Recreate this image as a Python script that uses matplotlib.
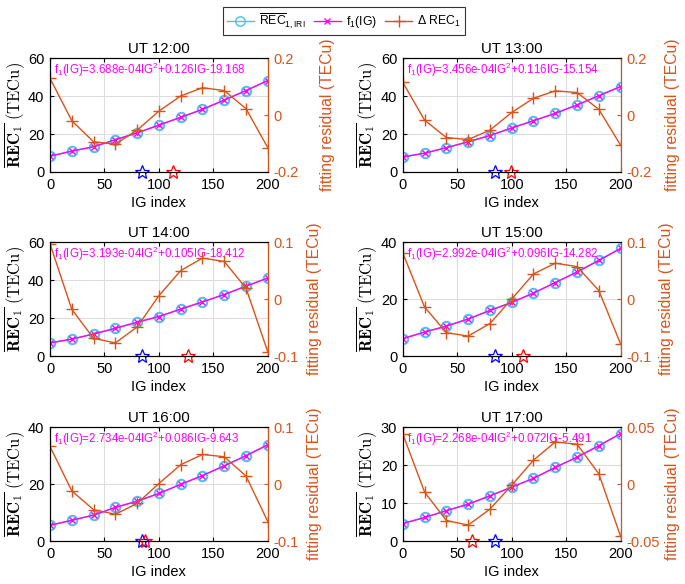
"""
REC_1 vs IG index, with quadratic fit f_1(IG) and fitting residual, UT 12-17.
"""
import matplotlib
matplotlib.use('Agg')
import matplotlib.pyplot as plt
from matplotlib.lines import Line2D
import numpy as np

# ── Data ──────────────────────────────────────────────
IG = [0, 20, 40, 60, 80, 100, 120, 140, 160, 180, 200]

TITLES = ['UT 12:00', 'UT 13:00', 'UT 14:00', 'UT 15:00', 'UT 16:00', 'UT 17:00']

FIT_TEXT = [
    'f$_1$(IG)=3.688e-04IG$^2$+0.126IG-19.168',
    'f$_1$(IG)=3.456e-04IG$^2$+0.116IG-15.154',
    'f$_1$(IG)=3.193e-04IG$^2$+0.105IG-18.412',
    'f$_1$(IG)=2.992e-04IG$^2$+0.096IG-14.282',
    'f$_1$(IG)=2.734e-04IG$^2$+0.086IG-9.643',
    'f$_1$(IG)=2.268e-04IG$^2$+0.072IG-5.491',
]

rec_12 = [8.3, 11.0, 13.3, 17.0, 20.6, 24.7, 28.8, 33.0, 37.9, 42.9, 48.2]
rec_13 = [7.9, 9.9, 12.8, 15.9, 19.2, 23.2, 27.0, 30.9, 35.3, 40.2, 45.0]
rec_14 = [6.9, 8.9, 11.6, 14.6, 17.8, 20.8, 24.7, 28.5, 32.4, 36.8, 41.1]
rec_15 = [6.1, 8.4, 10.5, 13.0, 16.0, 18.8, 22.1, 25.8, 29.5, 33.6, 37.8]
rec_16 = [5.5, 7.3, 9.1, 11.8, 14.0, 16.7, 19.9, 23.0, 26.4, 30.0, 33.8]
rec_17 = [4.6, 6.2, 8.0, 9.7, 11.9, 14.2, 16.5, 19.4, 22.1, 25.1, 28.3]

res_12 = [0.129, -0.020, -0.094, -0.102, -0.053, 0.014, 0.067, 0.096, 0.086, 0.022, -0.115]
res_13 = [0.115, -0.018, -0.079, -0.086, -0.053, 0.009, 0.059, 0.085, 0.079, 0.020, -0.106]
res_14 = [0.097, -0.018, -0.069, -0.077, -0.049, 0.006, 0.050, 0.072, 0.066, 0.019, -0.093]
res_15 = [0.081, -0.014, -0.059, -0.065, -0.043, 0.000, 0.044, 0.063, 0.057, 0.015, -0.079]
res_16 = [0.066, -0.012, -0.045, -0.053, -0.034, 0.001, 0.034, 0.052, 0.048, 0.014, -0.066]
res_17 = [0.044, -0.007, -0.032, -0.036, -0.022, -0.001, 0.021, 0.037, 0.035, 0.009, -0.046]

REC = [rec_12, rec_13, rec_14, rec_15, rec_16, rec_17]
RES = [res_12, res_13, res_14, res_15, res_16, res_17]

# star positions on the IG axis
STAR_BLUE = [84.5, 84.8, 84.5, 84.8, 84.5, 84.8]
STAR_RED = [113, 99.5, 127, 110, 87.3, 63.4]

# left / right axis limits
YMAX = [60, 60, 60, 40, 40, 30]
RMAX = [0.2, 0.2, 0.1, 0.1, 0.1, 0.05]

# ── Style ─────────────────────────────────────────────
C_BLUE = '#4DBEEE'
C_MAG = '#FF00FF'
C_ORG = '#D95319'

plt.rcParams['font.family'] = ['Liberation Sans', 'DejaVu Sans']
plt.rcParams['mathtext.fontset'] = 'custom'
plt.rcParams['mathtext.rm'] = 'Liberation Sans'
plt.rcParams['mathtext.it'] = 'Liberation Sans:italic'
plt.rcParams['mathtext.bf'] = 'Liberation Sans:bold'
plt.rcParams['axes.unicode_minus'] = False

fig = plt.figure(figsize=(6.85, 5.84), dpi=100)

# axes boxes in figure fraction
lefts = [0.073, 0.588]
bottoms = [0.7055, 0.3904, 0.0736]
W, H = 0.318, 0.195
AX_W_PX = W * 685
# gap (px) between right spine and the right-hand label
RLAB_GAP = [52, 44, 39, 38, 39, 44]

for i in range(6):
    row, col = divmod(i, 2)
    ax = fig.add_axes([lefts[col], bottoms[row], W, H])
    ax2 = ax.twinx()

    ax.plot(IG, REC[i], '-o', color=C_BLUE, ms=6.8, mfc='none', mew=1.4, lw=1.0, zorder=3)
    ax.plot(IG, REC[i], '-x', color=C_MAG, ms=5, mew=1.0, lw=1.0, zorder=4)
    ax.plot([STAR_BLUE[i]], [0], marker='*', ms=10.5, mfc='none', mec='blue', mew=0.9,
            clip_on=False, zorder=5)
    ax.plot([STAR_RED[i]], [0], marker='*', ms=10.5, mfc='none', mec='red', mew=0.9,
            clip_on=False, zorder=5)
    ax.text(4, YMAX[i] * 0.895, FIT_TEXT[i], color=C_MAG, fontsize=8.3, va='center', ha='left',
            zorder=6)

    ax2.plot(IG, RES[i], '-+', color=C_ORG, ms=8.5, mew=1.0, lw=1.0)

    ax.set_xlim(0, 200)
    ax.set_ylim(0, YMAX[i])
    ax.set_xticks([0, 50, 100, 150, 200])
    ax.set_yticks(np.arange(0, YMAX[i] + 1, 10 if YMAX[i] == 30 else 20))
    ax.grid(True, color='#dddddd', lw=0.8)
    ax.set_axisbelow(True)
    ax.tick_params(direction='in', labelsize=10.5, top=True, length=3, pad=4)
    ax.set_title(TITLES[i], fontsize=10.8, pad=4)
    ax.set_xlabel('IG index', fontsize=10.5, labelpad=3)
    ax.set_ylabel(r'$\overline{\mathbf{REC}_1}\ \mathrm{(TECu)}$', fontsize=12,
                  math_fontfamily='cm', labelpad=1)

    ax2.set_ylim(-RMAX[i], RMAX[i])
    ax2.set_yticks([-RMAX[i], 0, RMAX[i]])
    ax2.set_yticklabels([f'{-RMAX[i]:g}', '0', f'{RMAX[i]:g}'])
    ax2.tick_params(direction='in', labelsize=10.5, colors=C_ORG, length=3, pad=4)
    ax2.spines['right'].set_color(C_ORG)
    ax2.set_ylabel('fitting residual (TECu)', color=C_ORG, fontsize=11.3)
    ax2.yaxis.set_label_coords(1 + RLAB_GAP[i] / AX_W_PX, 0.5)

handles = [
    Line2D([], [], color=C_BLUE, marker='o', mfc='none', ms=6.8, lw=1.0),
    Line2D([], [], color=C_MAG, marker='x', ms=5, lw=1.0),
    Line2D([], [], color=C_ORG, marker='+', ms=8.5, lw=1.0),
]
labels = [r'$\overline{\mathrm{REC}}_{1,\mathrm{IRI}}$', 'f$_1$(IG)', r'$\Delta$ REC$_1$']
leg = fig.legend(handles, labels, loc='upper center', bbox_to_anchor=(0.502, 0.998), ncol=3,
                 fontsize=8.8, frameon=True, fancybox=False, edgecolor='black',
                 handlelength=2.2, columnspacing=0.7, handletextpad=0.4, borderpad=0.35)
leg.get_frame().set_linewidth(0.8)

fig.savefig('out.png', dpi=100)
